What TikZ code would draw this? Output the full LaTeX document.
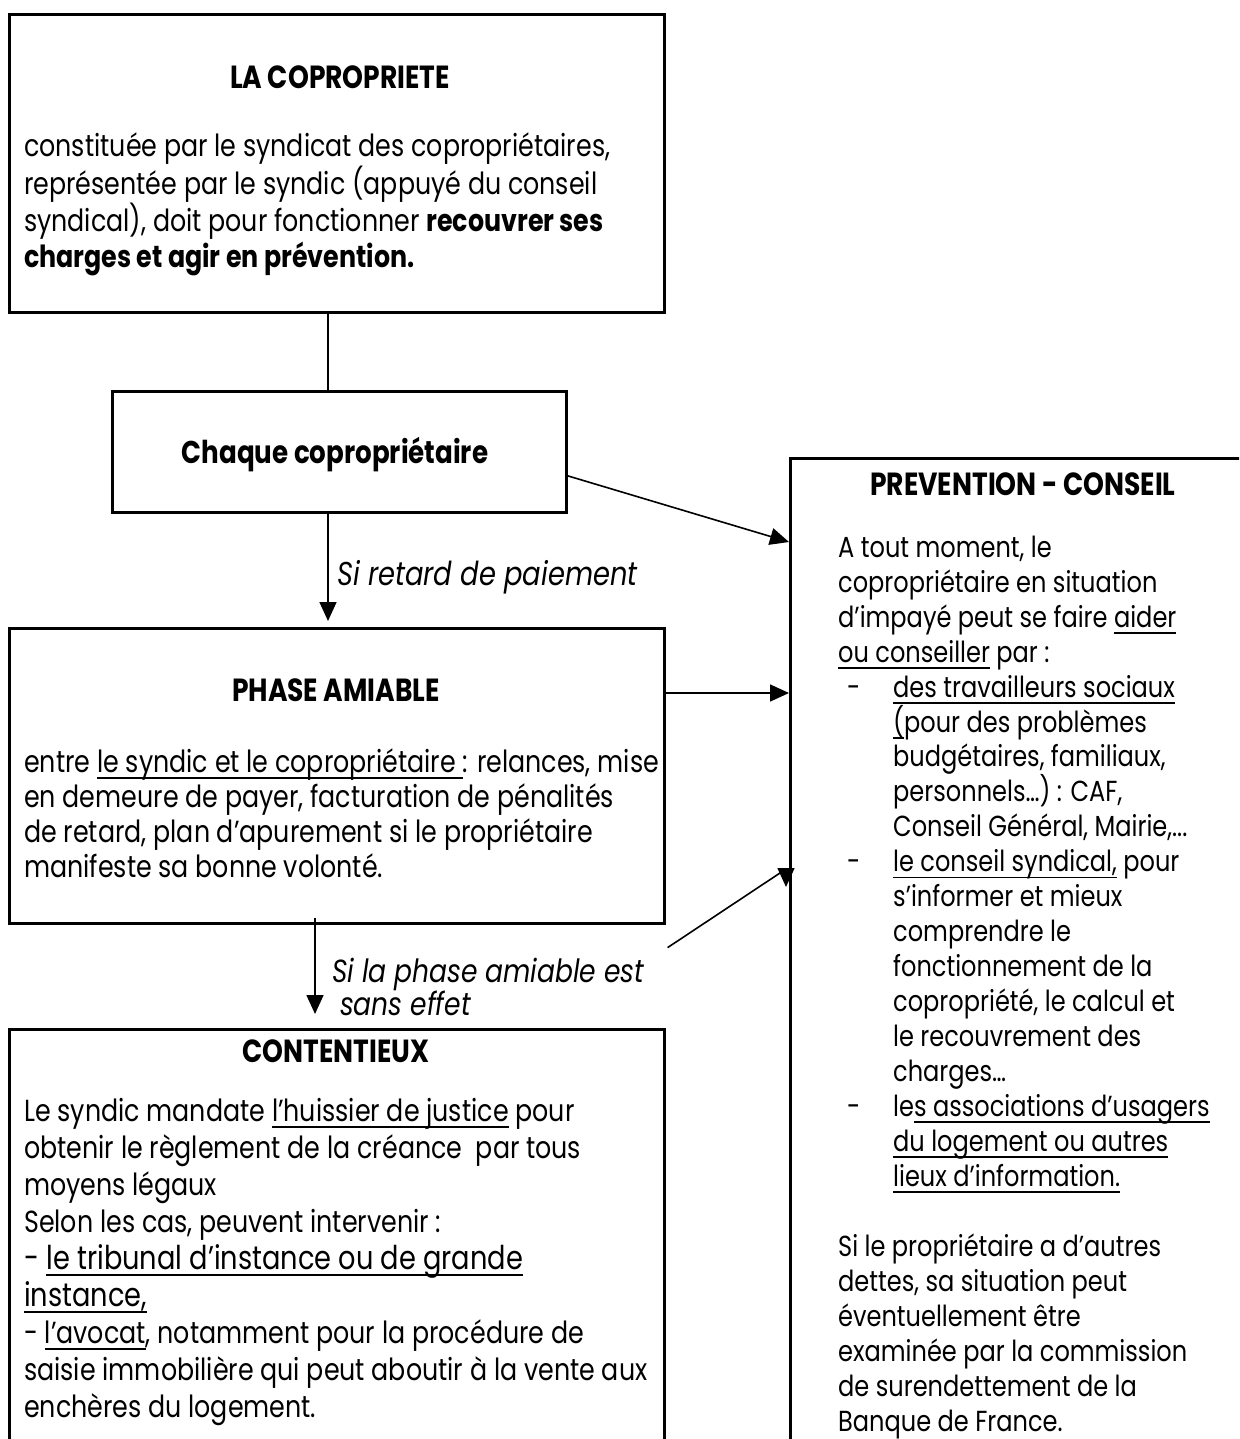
\documentclass[tikz,border=0pt]{standalone}
\usepackage{fontspec}
\setmainfont[FakeStretch=0.83]{Poppins}
\usetikzlibrary{arrows.meta,positioning}
\newsavebox\ulbox
\newcommand\ulx[1]{\sbox\ulbox{#1}\rlap{\rule[-6.5pt]{\wd\ulbox}{1.5pt}}\usebox\ulbox}

\begin{document}
\begin{tikzpicture}
      [
        x=1pt, y=1pt,
        font=\fontsize{30.5}{37}\selectfont,
        Box/.style={draw, line width=2.6pt, inner sep=0pt, anchor=north west},
        Title/.style={font=\fontsize{32}{37}\selectfont\bfseries, inner sep=0pt},
        Body/.style={align=left, inner sep=0pt, anchor=base west},
        Note/.style={align=left, inner sep=0pt, anchor=base west, font=\fontsize{32}{33}\selectfont\itshape},
        Link/.style={line width=1.6pt},
        Arrow/.style={Link, -{Triangle[length=19pt, width=17pt]}},
      ]
      \useasboundingbox (0,0) rectangle (1239,-1439);
      \clip (0,0) rectangle (1239,-1439);

      % the boxes
      \node [Box, minimum width=655pt, minimum height=298pt] (copro) at (8,-13) {};
      \node [Box, minimum width=454pt, minimum height=121pt] (chaque) at (111,-390) {};
      \node [Box, minimum width=655pt, minimum height=295pt] (phase) at (8,-627) {};
      \node [Box, minimum width=655pt, minimum height=520pt] (cont) at (8,-1028) {};
      \node [Box, minimum width=520pt, minimum height=1100pt] (prev) at (789,-457) {};

      \coordinate (spine) at (328,0);
      \coordinate (down) at (315,0);

      % LA COPROPRIETE (base = last line)
      \node [Title] (coprotitle) at (340,-77) {LA COPROPRIETE};
      \node [Body] (coprotext) at (24,-268)
        {constituée par le syndicat des copropriétaires,\\
         représentée par le syndic (appuyé du conseil\\
         syndical), doit pour fonctionner \textbf{recouvrer ses}\\
         \textbf{charges et agir en prévention.}};

      % Chaque coproprietaire
      \node [Title, font=\fontsize{31.5}{35}\selectfont\bfseries] (chaquetitle) at (335,-455) {Chaque copropriétaire};

      % PHASE AMIABLE
      \node [Title] (phasetitle) at (336,-690) {PHASE AMIABLE};
      \node [Body, font=\fontsize{30.5}{35}\selectfont] (phasetext) at (24,-877)
        {entre \ulx{le syndic et le copropriétaire\ }: relances, mise\\
         en demeure de payer, facturation de pénalités\\
         de retard, plan d’apurement si le propriétaire\\
         manifeste sa bonne volonté.};

      % CONTENTIEUX
      \node [Title] (conttitle) at (336,-1051) {CONTENTIEUX};
      \node [Body] (conttext) at (24,-1417)
        {Le syndic mandate \ulx{l’huissier de justice} pour\\
         obtenir le règlement de la créance \ par tous\\
         moyens légaux\\
         Selon les cas, peuvent intervenir :\\
         {\fontsize{32.8}{37}\selectfont - \ulx{le tribunal d’instance ou de grande}}\\
         {\fontsize{32.8}{37}\selectfont \ulx{instance,}}\\
         - \ulx{l’avocat}, notamment pour la procédure de\\
         saisie immobilière qui peut aboutir à la vente aux\\
         enchères du logement.};

      % PREVENTION - CONSEIL
      \node [Title] (prevtitle) at (1023,-484) {PREVENTION - CONSEIL};
      \node [Body, font=\fontsize{29}{34.95}\selectfont] (prevtext) at (838,-1431)
        {A tout moment, le\\
         copropriétaire en situation\\
         d’impayé peut se faire \ulx{aider}\\
         \ulx{ou conseiller} par :\\
         \hspace*{9pt}\makebox[46pt][l]{-}\ulx{des travailleurs sociaux}\\
         \hspace*{55pt}\ulx{(}pour des problèmes\\
         \hspace*{55pt}budgétaires, familiaux,\\
         \hspace*{55pt}personnels…) : CAF,\\
         \hspace*{55pt}Conseil Général, Mairie,...\\
         \hspace*{9pt}\makebox[46pt][l]{-}\ulx{le conseil syndical,} pour\\
         \hspace*{55pt}s’informer et mieux\\
         \hspace*{55pt}comprendre le\\
         \hspace*{55pt}fonctionnement de la\\
         \hspace*{55pt}copropriété, le calcul et\\
         \hspace*{55pt}le recouvrement des\\
         \hspace*{55pt}charges…\\
         \hspace*{9pt}\makebox[46pt][l]{-}le\ulx{s associations d’usagers}\\
         \hspace*{55pt}\ulx{du logement ou autres}\\
         \hspace*{55pt}\ulx{lieux d’information.}\\
         \mbox{}\\
         Si le propriétaire a d’autres\\
         dettes, sa situation peut\\
         éventuellement être\\
         examinée par la commission\\
         de surendettement de la\\
         Banque de France.};

      % connectors
      \draw [Link] (copro.south -| spine) -- (chaque.north -| spine);
      \draw [Arrow, shorten >=6pt] (chaque.south -| spine) -- (phase.north -| spine);
      \node [Note, font=\fontsize{33}{33}\selectfont\itshape] (retard) at (337,-585) {Si retard de paiement};

      \draw [Arrow] ([yshift=-24pt]chaque.east) -- ([yshift=-85pt]prev.north west);
      \draw [Arrow] ([yshift=-66pt]phase.north east) -- ([yshift=-66pt]phase.north east -| prev.west);

      \coordinate (esc) at ([shift={(-3,-412)}]prev.north west);
      \draw [Link] ([shift={(2,-23)}]phase.south east) -- (esc);
      \draw [Arrow] (esc) -- ++(0,-18);

      \draw [Arrow, shorten >=14pt] ([yshift=7pt]phase.south -| down) -- (cont.north -| down);
      \node [Note] (sanseffet) at (332,-1015) {Si la phase amiable est\\ \ sans effet};
    \end{tikzpicture}
\end{document}
